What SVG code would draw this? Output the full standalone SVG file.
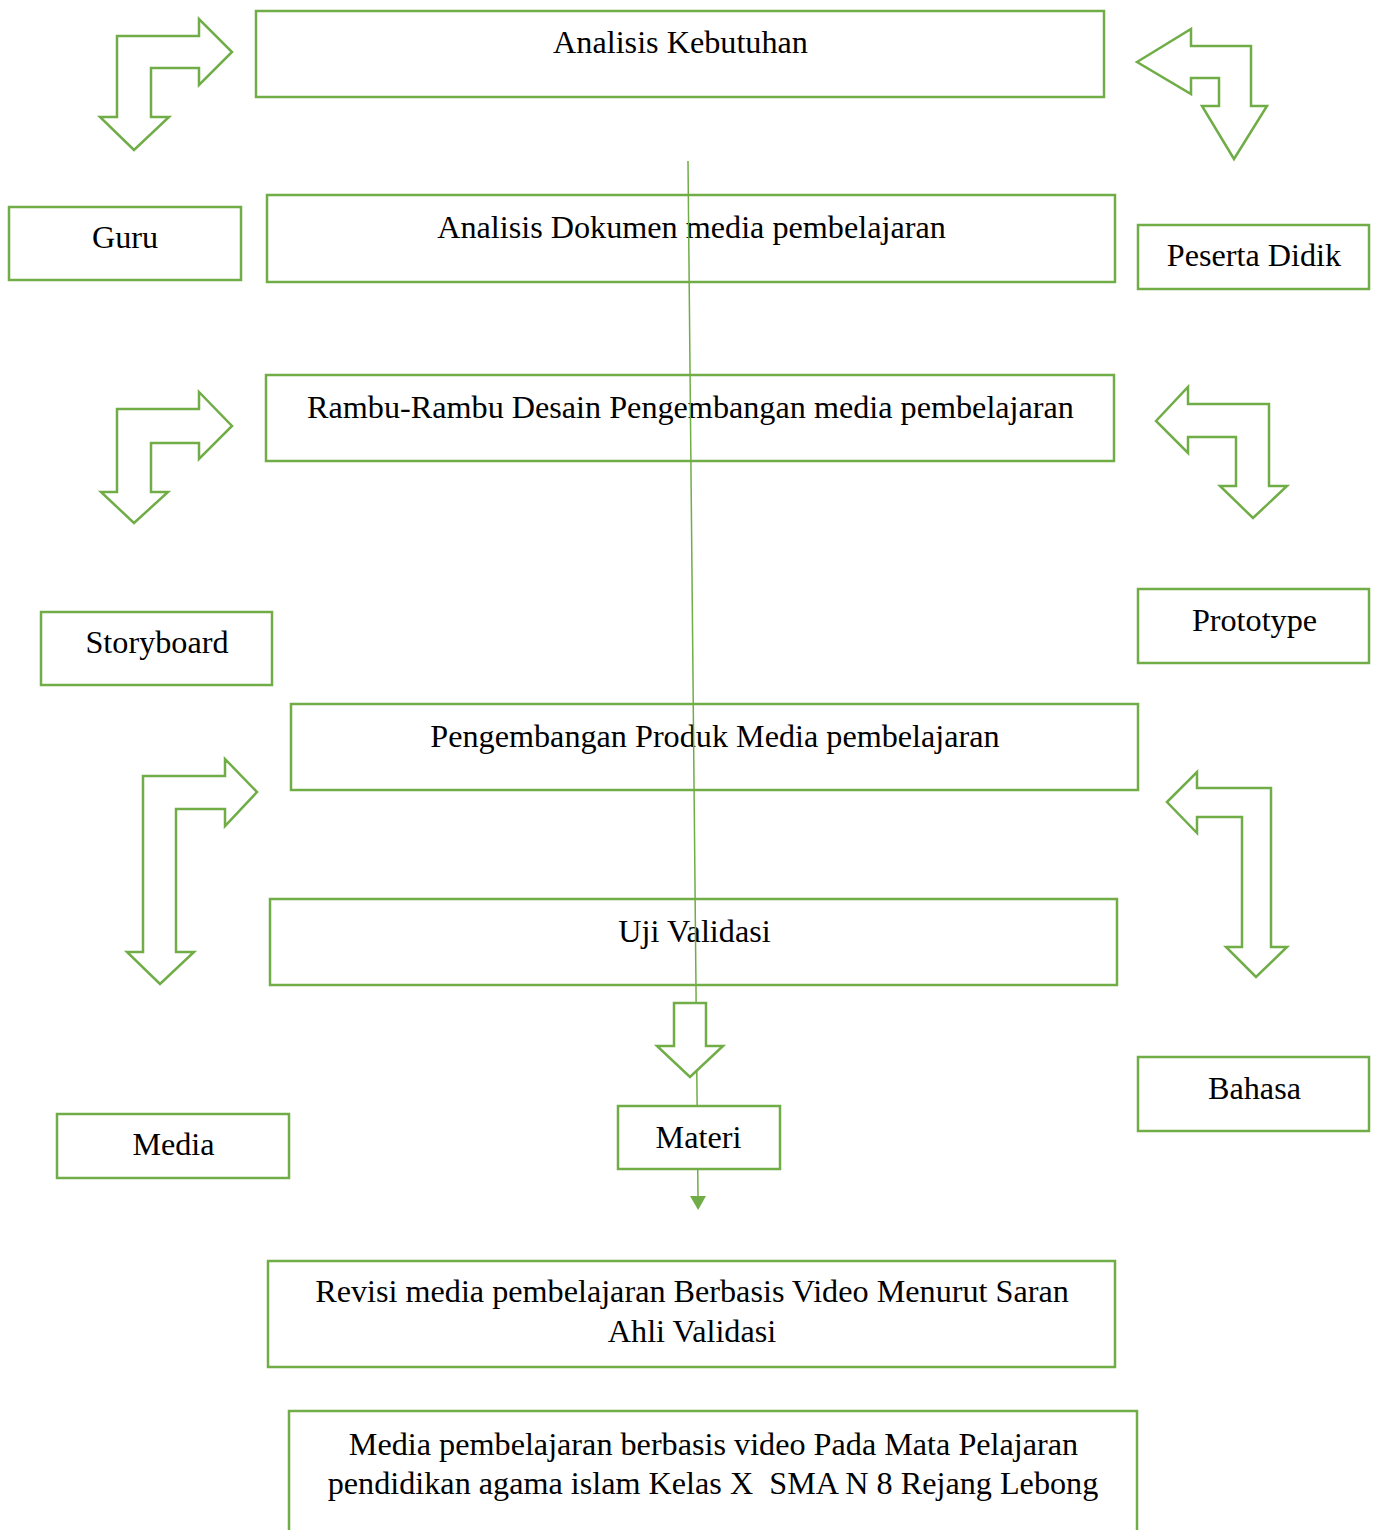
<svg xmlns="http://www.w3.org/2000/svg" width="1379" height="1530" viewBox="0 0 1379 1530">
<style>
.box{fill:none;stroke:#70AD47;stroke-width:2.5}
.wbox{fill:#fff;stroke:#70AD47;stroke-width:2.5}
.arr{fill:#fff;stroke:#70AD47;stroke-width:2.5;stroke-linejoin:miter}
.t{font-family:"Liberation Serif","Times New Roman",serif;font-size:32.2px;fill:#000;text-anchor:middle}
.con{stroke:#70AD47;stroke-width:1.5;fill:none}
</style>
<defs>
<marker id="ah" markerWidth="16" markerHeight="16" refX="0" refY="8" orient="auto" markerUnits="userSpaceOnUse" viewBox="0 0 16 16">
<path d="M0,0 L14,8 L0,16 Z" fill="#70AD47"/>
</marker>
</defs>
<rect width="1379" height="1530" fill="#fff"/>
<g id="n-analisis-kebutuhan"><rect class="box" x="256" y="11" width="848" height="86"/><text class="t" x="680.5" y="53">Analisis Kebutuhan</text></g>
<g id="n-analisis-dokumen"><rect class="box" x="267" y="195" width="848" height="87"/><text class="t" x="691.5" y="238">Analisis Dokumen media pembelajaran</text></g>
<g id="n-guru"><rect class="box" x="9" y="207" width="232" height="73"/><text class="t" x="125" y="248">Guru</text></g>
<g id="n-peserta"><rect class="box" x="1138" y="225" width="231" height="64"/><text class="t" x="1254" y="266">Peserta Didik</text></g>
<g id="n-rambu"><rect class="box" x="266" y="375" width="848" height="86"/><text class="t" x="690.5" y="418">Rambu-Rambu Desain Pengembangan media pembelajaran</text></g>
<g id="n-storyboard"><rect class="box" x="41" y="612" width="231" height="73"/><text class="t" x="157" y="653">Storyboard</text></g>
<g id="n-prototype"><rect class="box" x="1138" y="589" width="231" height="74"/><text class="t" x="1254.5" y="631">Prototype</text></g>
<g id="n-pengembangan"><rect class="box" x="291" y="704" width="847" height="86"/><text class="t" x="715" y="747">Pengembangan Produk Media pembelajaran</text></g>
<g id="n-uji"><rect class="box" x="270" y="899" width="847" height="86"/><text class="t" x="694.5" y="942">Uji Validasi</text></g>
<g id="n-bahasa"><rect class="box" x="1138" y="1057" width="231" height="74"/><text class="t" x="1254.5" y="1099">Bahasa</text></g>
<g id="n-media"><rect class="box" x="57" y="1114" width="232" height="64"/><text class="t" x="173.5" y="1155">Media</text></g>
<g id="n-revisi"><rect class="box" x="268" y="1261" width="847" height="106"/><text class="t" x="692" y="1302">Revisi media pembelajaran Berbasis Video Menurut Saran</text><text class="t" x="692" y="1342">Ahli Validasi</text></g>
<g id="n-final"><rect class="box" x="289" y="1411" width="848" height="140"/><text class="t" x="713.5" y="1455">Media pembelajaran berbasis video Pada Mata Pelajaran</text><text class="t" x="713" y="1494" xml:space="preserve">pendidikan agama islam Kelas X  SMA N 8 Rejang Lebong</text></g>
<g id="connectors">
<line class="con" x1="688" y1="161" x2="698" y2="1196" marker-end="url(#ah)"/>
</g>
<g id="arrows">
<polygon class="arr" points="117,36 199,36 199,19 232,52 199,85 199,68 151,68 151,117 169,117 134,150 100,117 117,117"/>
<polygon class="arr" points="1137,62 1191,29 1191,46 1251,46 1251,106 1267,106 1234,159 1202,106 1219,106 1219,78 1191,78 1191,94"/>
<polygon class="arr" points="117,409 199,409 199,392 232,426 199,459 199,443 151,443 151,492 168,492 134,523 101,492 117,492"/>
<polygon class="arr" points="1156,421 1188,387 1188,404 1269,404 1269,486 1287,486 1253,518 1220,486 1236,486 1236,437 1188,437 1188,453"/>
<polygon class="arr" points="143,776 225,776 225,759 257,792 225,826 225,809 176,809 176,952 194,952 160,984 127,952 143,952"/>
<polygon class="arr" points="1167,802 1197,772 1197,788 1271,788 1271,947 1287,947 1256,977 1226,947 1242,947 1242,817 1197,817 1197,833"/>
<polygon class="arr" points="674,1003 706,1003 706,1046 723,1046 690,1077 657,1046 674,1046"/>
</g>
<g id="n-materi"><rect class="wbox" x="618" y="1106" width="162" height="63"/><text class="t" x="698.5" y="1148">Materi</text></g>
</svg>
